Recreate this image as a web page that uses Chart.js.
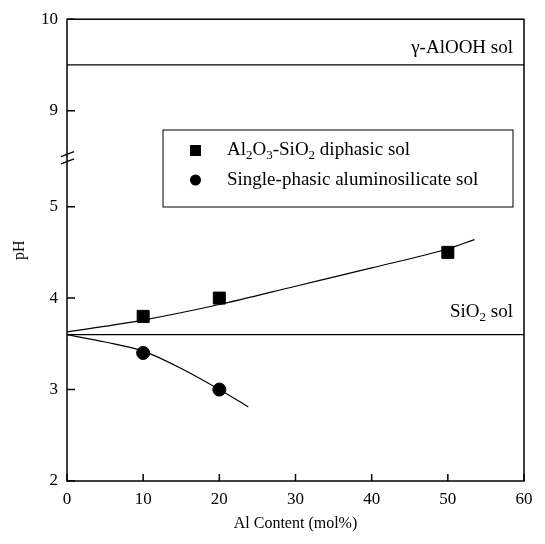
<!DOCTYPE html>
<html>
<head>
<meta charset="utf-8">
<script src="https://cdn.jsdelivr.net/npm/chart.js@4.4.0/dist/chart.umd.min.js"></script>
<style>
    html, body { margin: 0; padding: 0; background: #fff; }
    #wrap { width: 545px; height: 544px; }
</style>
</head>
<body>
<div id="wrap"><canvas id="phChart"></canvas></div>
<script>
// Data
const xTickValues = [0, 10, 20, 30, 40, 50, 60];
const yTickLabels = [2, 3, 4, 5, 9, 10];

const diphasicX = [10, 20, 50];
const diphasicPH = [3.8, 4.0, 4.5];
const singleX = [10, 20];
const singlePH = [3.4, 3.0];

// hand-drawn trend curves
const diphasicFitX = [0, 10, 20, 30, 40, 50, 53.5];
const diphasicFitPH = [3.63, 3.76, 3.93, 4.13, 4.33, 4.54, 4.64];
const singleFitX = [0, 5, 10, 15, 20, 23.8];
const singleFitPH = [3.6, 3.52, 3.42, 3.23, 3.0, 2.81];

const aloohPH = 9.5;
const sio2PH = 3.6;

const legendNames = [
    [['Al'], ['2', 1], ['O'], ['3', 1], ['-SiO'], ['2', 1], [' diphasic sol']],
    [['Single-phasic aluminosilicate sol']]
];
const aloohLabel = [['γ-AlOOH sol']];
const sio2Label = [['SiO'], ['2', 1], [' sol']];

// broken y axis: values above the break are shifted down
const breakShift = 2.95;
function toAxis(ph) {
    return ph >= 8 ? ph - breakShift : ph;
}
function pts(xs, ys) {
    return xs.map((x, i) => ({ x: x, y: toAxis(ys[i]) }));
}

const FONT = "'Liberation Serif', 'Times New Roman', serif";

function drawRich(ctx, parts, x, y, size, align) {
    const big = size + 'px ' + FONT;
    const small = Math.round(size * 0.68) + 'px ' + FONT;
    let w = 0;
    parts.forEach(p => {
        ctx.font = p[1] ? small : big;
        w += ctx.measureText(p[0]).width;
    });
    let cx = align === 'right' ? x - w : x;
    ctx.textBaseline = 'middle';
    ctx.textAlign = 'left';
    parts.forEach(p => {
        ctx.font = p[1] ? small : big;
        ctx.fillText(p[0], cx, p[1] ? y + size * 0.3 : y);
        cx += ctx.measureText(p[0]).width;
    });
}

const decorPlugin = {
    id: 'decor',
    afterDraw(chart) {
        const ctx = chart.ctx;
        const a = chart.chartArea;
        const xs = chart.scales.x;
        const ys = chart.scales.y;
        ctx.save();
        ctx.strokeStyle = '#000';
        ctx.fillStyle = '#000';
        ctx.lineWidth = 1.5;
        ctx.strokeRect(a.left, a.top, a.right - a.left, a.bottom - a.top);

        // inward ticks
        ctx.beginPath();
        xTickValues.forEach(v => {
            const px = xs.getPixelForValue(v);
            ctx.moveTo(px, a.bottom);
            ctx.lineTo(px, a.bottom - 7);
        });
        yTickLabels.forEach(v => {
            const py = ys.getPixelForValue(toAxis(v));
            ctx.moveTo(a.left, py);
            ctx.lineTo(a.left + 8, py);
        });
        ctx.stroke();

        // axis break marks
        const b1 = ys.getPixelForValue(5.58);
        const b2 = ys.getPixelForValue(5.5);
        ctx.lineWidth = 1.3;
        ctx.beginPath();
        ctx.moveTo(a.left - 6, b1 + 3);
        ctx.lineTo(a.left + 7, b1 - 2);
        ctx.moveTo(a.left - 6, b2 + 3);
        ctx.lineTo(a.left + 7, b2 - 2);
        ctx.stroke();

        // reference line labels
        drawRich(ctx, aloohLabel, 513, ys.getPixelForValue(toAxis(aloohPH)) - 17, 19, 'right');
        drawRich(ctx, sio2Label, 513, ys.getPixelForValue(sio2PH) - 23, 19, 'right');

        // legend box
        ctx.lineWidth = 1;
        ctx.strokeRect(163, 130, 350, 77);
        ctx.fillRect(190, 145, 11, 11);
        ctx.beginPath();
        ctx.arc(195.5, 180, 5.5, 0, Math.PI * 2);
        ctx.fill();
        drawRich(ctx, legendNames[0], 227, 150, 19, 'left');
        drawRich(ctx, legendNames[1], 227, 180, 19, 'left');
        ctx.restore();
    }
};

const ctx = document.getElementById('phChart').getContext('2d');
new Chart(ctx, {
    type: 'scatter',
    data: {
        datasets: [
            {
                label: 'gamma-AlOOH sol',
                data: pts([0, 60], [aloohPH, aloohPH]),
                showLine: true, borderColor: '#000', borderWidth: 1.2, pointRadius: 0
            },
            {
                label: 'SiO2 sol',
                data: pts([0, 60], [sio2PH, sio2PH]),
                showLine: true, borderColor: '#000', borderWidth: 1.2, pointRadius: 0
            },
            {
                label: 'diphasic fit',
                data: pts(diphasicFitX, diphasicFitPH),
                showLine: true, borderColor: '#000', borderWidth: 1.2, pointRadius: 0,
                cubicInterpolationMode: 'monotone'
            },
            {
                label: 'single-phasic fit',
                data: pts(singleFitX, singleFitPH),
                showLine: true, borderColor: '#000', borderWidth: 1.2, pointRadius: 0,
                cubicInterpolationMode: 'monotone'
            },
            {
                label: 'Al2O3-SiO2 diphasic sol',
                data: pts(diphasicX, diphasicPH),
                pointStyle: 'rect', pointRadius: 8.5,
                backgroundColor: '#000', borderColor: '#000'
            },
            {
                label: 'Single-phasic aluminosilicate sol',
                data: pts(singleX, singlePH),
                pointStyle: 'circle', pointRadius: 6.5,
                backgroundColor: '#000', borderColor: '#000'
            }
        ]
    },
    options: {
        responsive: true,
        maintainAspectRatio: false,
        animation: false,
        layout: { padding: { top: 12, right: 21, left: 0, bottom: 0 } },
        plugins: {
            legend: { display: false },
            tooltip: { enabled: false }
        },
        scales: {
            x: {
                type: 'linear',
                min: 0,
                max: 60,
                afterFit: function(scale) { scale.height = 63; },
                afterBuildTicks: function(scale) {
                    scale.ticks = xTickValues.map(v => ({ value: v }));
                },
                grid: { display: false, drawTicks: false },
                border: { display: false },
                ticks: {
                    padding: 8,
                    color: '#000',
                    font: { family: FONT, size: 17 }
                },
                title: {
                    display: true,
                    text: 'Al Content (mol%)',
                    color: '#000',
                    font: { family: FONT, size: 16 },
                    padding: { top: 0, bottom: 11 }
                }
            },
            y: {
                type: 'linear',
                min: 2,
                max: 10 - breakShift,
                afterFit: function(scale) { scale.width = 67; },
                afterBuildTicks: function(scale) {
                    scale.ticks = yTickLabels.map(v => ({ value: toAxis(v) }));
                },
                grid: { display: false, drawTicks: false },
                border: { display: false },
                ticks: {
                    padding: 9,
                    color: '#000',
                    font: { family: FONT, size: 17 },
                    callback: function(value) {
                        return value >= 6 ? Math.round(value + breakShift) : Math.round(value);
                    }
                },
                title: {
                    display: true,
                    text: 'pH',
                    color: '#000',
                    font: { family: FONT, size: 16 },
                    padding: { top: 10, bottom: 0 }
                }
            }
        }
    },
    plugins: [decorPlugin]
});
</script>
</body>
</html>
